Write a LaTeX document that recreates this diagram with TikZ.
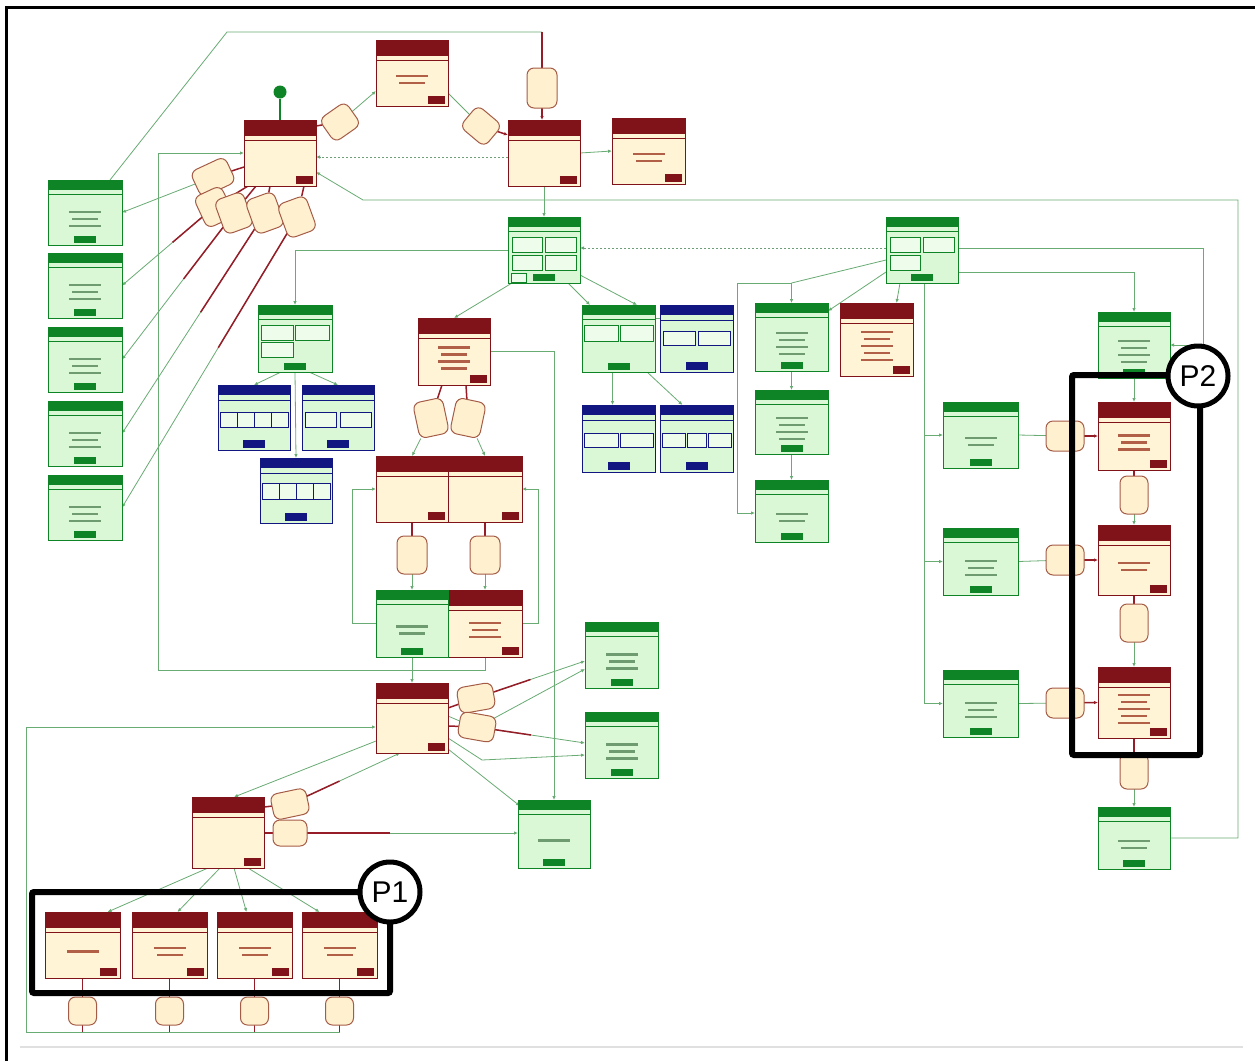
\documentclass[tikz,border=0pt]{standalone}
\usepackage{fontspec}
\newfontfamily\labfont{Liberation Sans}
\usetikzlibrary{calc,arrows.meta,backgrounds}
\definecolor{gdark}{RGB}{14,132,38}
\definecolor{glight}{RGB}{218,247,214}
\definecolor{rdark}{RGB}{128,18,26}
\definecolor{rlight}{RGB}{255,244,214}
\definecolor{bdark}{RGB}{18,22,128}
\definecolor{lgreen}{RGB}{104,172,116}
\definecolor{lred}{RGB}{150,28,40}
\definecolor{blobd}{RGB}{165,92,70}
\definecolor{blobf}{RGB}{255,240,208}
\definecolor{gtxt}{RGB}{110,155,112}
\definecolor{rtxt}{RGB}{178,95,72}
\definecolor{celf}{RGB}{238,252,236}
\newcommand{\cell}[4]{\draw[draw=#1, fill=celf, line width=0.6pt] ($(#2.north west)+(#3)$) rectangle ($(#2.north west)+(#4)$);}
\newcommand{\btxt}[3]{\foreach \k in {1,...,#2}{\fill[#3] ($(#1.center)+({-13-mod(\k,2)*3},{5+(\k-(#2+1)/2)*7})$) rectangle ++({26+mod(\k,2)*6},2.6);}}
\tikzset{
 >={Latex[length=4pt,width=3.5pt]},
 boxbase/.style={anchor=north west, inner sep=0pt, outer sep=0pt, line width=0.9pt, minimum width=72pt, minimum height=66pt},
 gbox/.style={boxbase, draw=gdark, fill=glight, path picture={
   \fill[gdark] (path picture bounding box.north west) rectangle ([yshift=-10pt]path picture bounding box.north east);
   \draw[gdark,line width=0.5pt] ([yshift=-14pt]path picture bounding box.north west) -- ([yshift=-14pt]path picture bounding box.north east);
   \fill[gdark] ([xshift=-11pt,yshift=2pt]path picture bounding box.south) rectangle ([xshift=11pt,yshift=9pt]path picture bounding box.south);
 }},
 rbox/.style={boxbase, draw=rdark, fill=rlight, path picture={
   \fill[rdark] (path picture bounding box.north west) rectangle ([yshift=-16pt]path picture bounding box.north east);
   \draw[rdark,line width=0.5pt] ([yshift=-20pt]path picture bounding box.north west) -- ([yshift=-20pt]path picture bounding box.north east);
   \fill[rdark] ([xshift=-20pt,yshift=2pt]path picture bounding box.south east) rectangle ([xshift=-3pt,yshift=10pt]path picture bounding box.south east);
 }},
 bbox/.style={boxbase, draw=bdark, fill=glight, path picture={
   \fill[bdark] (path picture bounding box.north west) rectangle ([yshift=-10pt]path picture bounding box.north east);
   \draw[bdark,line width=0.5pt] ([yshift=-15pt]path picture bounding box.north west) -- ([yshift=-15pt]path picture bounding box.north east);
   \fill[bdark] ([xshift=-11pt,yshift=2pt]path picture bounding box.south) rectangle ([xshift=11pt,yshift=10pt]path picture bounding box.south);
 }},
 blob/.style={draw=blobd, fill=blobf, line width=1pt, rounded corners=7pt, minimum width=28pt, minimum height=36pt, inner sep=0pt, outer sep=0pt},
 gl/.style={draw=lgreen, line width=0.8pt},
 rl/.style={draw=lred, line width=1.5pt},
 dl/.style={draw=lgreen!70!gray, line width=0.8pt, dash pattern=on 2pt off 2pt},
 plab/.style={circle, draw, line width=5pt, fill=white, minimum size=60pt, inner sep=0pt, font=\labfont\fontsize{30}{30}\selectfont}
}
\begin{document}
\begin{tikzpicture}[x=1pt,y=-1pt]
\useasboundingbox (0,0) rectangle (1255,1061);
\begin{pgfonlayer}{background}
\fill[white] (0,0) rectangle (1255,1061);
\end{pgfonlayer}
% ---------- red boxes
\node[rbox] (A) at (244,120) {};
\node[rbox] (B) at (376,40) {};
\node[rbox] (C) at (508,120) {};
\node[rbox, minimum width=73pt] (D) at (612,118) {};
\node[rbox, minimum height=67pt] (H) at (418,318) {};
\node[rbox] (I1) at (376,456) {};
\node[rbox, minimum width=74pt] (I2) at (448,456) {};
\node[rbox, minimum width=74pt, minimum height=67pt] (J2) at (448,590) {};
\node[rbox, minimum height=70pt] (K) at (376,683) {};
\node[rbox, minimum height=71pt] (N) at (192,797) {};
\node[rbox, minimum width=75pt] (P1a) at (45,912) {};
\node[rbox, minimum width=75pt] (P1b) at (132,912) {};
\node[rbox, minimum width=75pt] (P1c) at (217,912) {};
\node[rbox, minimum width=75pt] (P1d) at (302,912) {};
\node[rbox, minimum width=73pt, minimum height=73pt] (R) at (840,303) {};
\node[rbox, minimum height=68pt] (T1) at (1098,402) {};
\node[rbox, minimum height=70pt] (T2) at (1098,525) {};
\node[rbox, minimum height=71pt] (T3) at (1098,667) {};
% ---------- green boxes
\node[gbox, minimum width=74pt, minimum height=65pt] (LA) at (48,180) {};
\node[gbox, minimum width=74pt, minimum height=65pt] (LB) at (48,253) {};
\node[gbox, minimum width=74pt, minimum height=65pt] (LC) at (48,327) {};
\node[gbox, minimum width=74pt, minimum height=65pt] (LD) at (48,401) {};
\node[gbox, minimum width=74pt, minimum height=65pt] (LE) at (48,475) {};
\node[gbox] (E) at (508,217) {};
\node[gbox, minimum width=74pt, minimum height=67pt] (F) at (258,305) {};
\node[gbox, minimum height=67pt] (J1) at (376,590) {};
\node[gbox, minimum width=73pt] (GL1) at (585,622) {};
\node[gbox, minimum width=73pt] (GL2) at (585,712) {};
\node[gbox, minimum height=68pt] (M) at (518,800) {};
\node[gbox] (O) at (886,217) {};
\node[gbox, minimum width=73pt, minimum height=68pt] (Q1) at (755,303) {};
\node[gbox, minimum width=73pt, minimum height=64pt] (Q2) at (755,390) {};
\node[gbox, minimum width=73pt, minimum height=62pt] (Q3) at (755,480) {};
\node[gbox] (S) at (1098,312) {};
\node[gbox, minimum width=75pt] (V1) at (943,402) {};
\node[gbox, minimum width=75pt, minimum height=67pt] (V2) at (943,528) {};
\node[gbox, minimum width=75pt, minimum height=67pt] (V3) at (943,670) {};
\node[gbox, minimum height=62pt] (U) at (1098,807) {};
\node[gbox, minimum width=73pt, minimum height=67pt] (W) at (582,305) {};
% ---------- blue boxes
\node[bbox, minimum height=65pt] (G1) at (218,385) {};
\node[bbox, minimum height=65pt] (G2) at (302,385) {};
\node[bbox, minimum height=65pt] (G3) at (260,458) {};
\node[bbox, minimum width=73pt, minimum height=67pt] (X) at (660,305) {};
\node[bbox, minimum width=73pt, minimum height=67pt] (Y1) at (582,405) {};
\node[bbox, minimum width=73pt, minimum height=67pt] (Y2) at (660,405) {};
% ---------- cells
\cell{gdark}{E}{4,20}{34,35}\cell{gdark}{E}{37,20}{68,35}
\cell{gdark}{E}{4,38}{34,53}\cell{gdark}{E}{37,38}{68,53}
\cell{gdark}{E}{3,56}{18,65}
\cell{gdark}{F}{3,20}{35,35}\cell{gdark}{F}{37,20}{71,35}\cell{gdark}{F}{3,37}{35,52}
\cell{gdark}{O}{4,20}{34,35}\cell{gdark}{O}{37,20}{68,35}\cell{gdark}{O}{4,38}{34,53}
\cell{gdark}{W}{2,20}{36,36}\cell{gdark}{W}{38,20}{71,36}
\cell{bdark}{G1}{2,27}{19,42}\cell{bdark}{G1}{19,27}{36,42}\cell{bdark}{G1}{36,27}{53,42}\cell{bdark}{G1}{53,27}{70,42}
\cell{bdark}{G2}{3,27}{34,42}\cell{bdark}{G2}{38,27}{69,42}
\cell{bdark}{G3}{2,25}{19,41}\cell{bdark}{G3}{19,25}{36,41}\cell{bdark}{G3}{36,25}{53,41}\cell{bdark}{G3}{53,25}{70,41}
\cell{bdark}{X}{3,26}{35,40}\cell{bdark}{X}{38,26}{70,40}
\cell{bdark}{Y1}{2,28}{36,42}\cell{bdark}{Y1}{38,28}{71,42}
\cell{bdark}{Y2}{2,28}{25,42}\cell{bdark}{Y2}{27,28}{46,42}\cell{bdark}{Y2}{48,28}{71,42}
% ---------- text-like marks
\foreach \n/\c in {LA/3,LB/3,LC/3,LD/3,LE/3,J1/2,GL1/3,GL2/3,M/1,Q1/4,Q2/4,Q3/2,S/4,V1/2,V2/3,V3/3,U/2}{\btxt{\n}{\c}{gtxt}}
\foreach \n/\c in {B/2,D/2,H/4,J2/3,P1a/1,P1b/2,P1c/2,P1d/2,R/5,T1/3,T2/2,T3/5}{\btxt{\n}{\c}{rtxt}}
% ---------- blobs
\node[circle, fill=gdark, minimum size=13pt, inner sep=0pt] (dot) at (280,92) {};
\node[blob, minimum width=32pt, minimum height=28pt, rotate=35] (b1) at (340,122) {};
\node[blob, minimum width=32pt, minimum height=28pt, rotate=-40] (b2) at (481,126) {};
\node[blob, minimum width=30pt, minimum height=40pt] (b3) at (542,88) {};
\node[blob, minimum width=38pt, minimum height=28pt, rotate=25] (a1) at (213,177) {};
\node[blob, minimum width=30pt, minimum height=34pt, rotate=25] (a2) at (214,207) {};
\node[blob, minimum width=30pt, minimum height=36pt, rotate=20] (a3) at (234,213) {};
\node[blob, minimum width=30pt, minimum height=36pt, rotate=20] (a4) at (265,213) {};
\node[blob, minimum width=30pt, minimum height=36pt, rotate=20] (a5) at (297,217) {};
\node[blob, minimum width=30pt, minimum height=36pt, rotate=12] (h1) at (431,418) {};
\node[blob, minimum width=30pt, minimum height=36pt, rotate=-12] (h2) at (468,418) {};
\node[blob, minimum width=30pt, minimum height=38pt] (i1) at (412,555) {};
\node[blob, minimum width=30pt, minimum height=38pt] (i2) at (485,555) {};
\node[blob, minimum width=36pt, minimum height=26pt, rotate=10] (k1) at (476,698) {};
\node[blob, minimum width=36pt, minimum height=26pt, rotate=-10] (k2) at (477,727) {};
\node[blob, minimum width=36pt, minimum height=26pt, rotate=12] (n1) at (290,804) {};
\node[blob, minimum width=34pt, minimum height=26pt] (n2) at (290,833) {};
\node[blob, minimum width=28pt, minimum height=28pt] (p1) at (82.5,1011) {};
\node[blob, minimum width=28pt, minimum height=28pt] (p2) at (169.5,1011) {};
\node[blob, minimum width=28pt, minimum height=28pt] (p3) at (254.5,1011) {};
\node[blob, minimum width=28pt, minimum height=28pt] (p4) at (339.5,1011) {};
\node[blob, minimum width=28pt, minimum height=38pt] (t1) at (1134,495) {};
\node[blob, minimum width=28pt, minimum height=38pt] (t2) at (1134,623) {};
\node[blob, minimum width=28pt, minimum height=36pt] (t3) at (1134,771) {};
\node[blob, minimum width=38pt, minimum height=30pt] (v1) at (1065,436) {};
\node[blob, minimum width=38pt, minimum height=30pt] (v2) at (1065,560) {};
\node[blob, minimum width=38pt, minimum height=30pt] (v3) at (1065,703) {};
\coordinate (bl) at (0,1032);
\coordinate (qj) at (791.5,283);
\coordinate (vj) at (924,283);
% ---------- connectors
\begin{pgfonlayer}{background}
\draw[gdark, line width=1.6pt] (dot) -- (A);
\draw[rl] ([yshift=-6pt]A.north east) -- (b1);
\draw[gl,->] (b1) -- ([yshift=-18pt]B.west);
\draw[gl] ([yshift=-20pt]B.east) -- (b2);
\draw[rl,->] (b2) -- ([yshift=18pt]C.west);
\draw[gl] ([xshift=-12pt]LA.north east) -- (227,32) -- (542,32);
\draw[rl] (542,32) -- (b3);
\draw[rl,->] (b3) -- (b3 |- C.north);
\draw[dl,->] ([yshift=-4pt]C.west) -- ([yshift=-4pt]A.east);
\draw[gl,->] (J2.south) |- (158,670) |- (A.west);
\draw[gl,->] (U.east) -| (1238,200) -- (363,200) -- ([yshift=-19pt]A.east);
\draw[gl,->] (C.south) -- (E.north);
\draw[gl,->] (C.east) -- (D.west);
% left cluster
\draw[gl,->] (a1) -- (LA.east);
\draw[rl] (a1) -- ([yshift=-14pt]A.west);
\foreach \b/\l in {a2/LB,a3/LC,a4/LD,a5/LE}{
  \draw[gl,->] (\b) -- (\l.east);
  \draw[rl] (\b) -- ($(\b)!0.45!(\l.east)$);
}
\draw[rl] (a2) -- ([xshift=4pt]A.south west);
\draw[rl] (a3) -- ([xshift=12pt]A.south west);
\draw[rl] (a4) -- ([xshift=26pt]A.south west);
\draw[rl] (a5) -- ([xshift=-12pt]A.south east);
% E subtree
\draw[gl,->] (E.west) -| (F.north);
\draw[gl,->] ([xshift=-14pt]F.south) -- (G1.north);
\draw[gl,->] ([xshift=14pt]F.south) -- (G2.north);
\draw[gl,->] (F.south) -- (G3.north);
\draw[gl,->] ([xshift=4pt]E.south west) -- (H.north);
\draw[gl,->] ([xshift=-12pt]E.south east) -- ([xshift=8pt]W.north west);
\draw[gl,->] ([yshift=8pt]E.south east) -- ([xshift=-18pt]W.north east);
\draw[gl] ([yshift=-13pt]W.north east) -- ([yshift=-13pt]X.north west);
\draw[gl,->] ([xshift=-6pt]W.south) -- ([xshift=-6pt]Y1.north);
\draw[gl,->] ([xshift=-8pt]W.south east) -- ([xshift=-14pt]Y2.north);
% H subtree
\draw[rl] ([xshift=-12pt]H.south) -- (h1);
\draw[gl,->] (h1) -- (I1.north);
\draw[rl] ([xshift=12pt]H.south) -- (h2);
\draw[gl,->] (h2) -- (I2.north);
\draw[gl,->] (H.east) -| (M.north);
\draw[rl] (I1.south) -- (i1);
\draw[gl,->] (i1) -- (J1.north);
\draw[rl] (I2.south) -- (i2);
\draw[gl,->] (i2) -- (J2.north);
\draw[gl,->] (J1.west) -- ++(-24,0) |- (I1.west);
\draw[gl,->] (J2.east) -- ++(16,0) |- (I2.east);
\draw[gl,->] (J1.south) -- (K.north);
% K subtree
\draw[rl] ([yshift=10pt]K.east) -- (k1);
\draw[gl,->] (k1) -- ([yshift=-6pt]GL1.west);
\draw[rl] (k1) -- ($(k1)!0.5!([yshift=-6pt]GL1.west)$);
\draw[gl,->] ([yshift=2pt]K.east) -- ++(28,12) -- ([yshift=-14pt]GL1.west);
\draw[rl] ([yshift=-8pt]K.east) -- (k2);
\draw[gl,->] (k2) -- ([yshift=2pt]GL2.west);
\draw[rl] (k2) -- ($(k2)!0.5!([yshift=2pt]GL2.west)$);
\draw[gl,->] ([yshift=-20pt]K.east) -- ++(34,22) -- ([yshift=-10pt]GL2.west);
\draw[gl,->] ([yshift=4pt]K.south east) -- ([xshift=2pt,yshift=-6pt]M.north west);
\draw[gl,->] ([yshift=12pt]K.south west) -- ([xshift=6pt]N.north);
\draw[gl,->] (p4.south) |- (26,1032) |- ([yshift=-9pt]K.west);
\foreach \p/\q in {P1a/p1,P1b/p2,P1c/p3,P1d/p4}{
  \draw[rl, line width=1.1pt] (\p.south) -- (\q);
  \draw[rl, line width=1.1pt] (\q.south) -- (\q.south |- bl);
}
\draw[gl] (p1.south |- bl) -- (p4.south |- bl);
% N
\draw[gl,->] ([xshift=-20pt]N.south) -- ([xshift=25pt]P1a.north);
\draw[gl,->] ([xshift=-8pt]N.south) -- ([xshift=8pt]P1b.north);
\draw[gl,->] ([xshift=6pt]N.south) -- ([xshift=-8pt]P1c.north);
\draw[gl,->] ([xshift=20pt]N.south) -- ([xshift=-20pt]P1d.north);
\draw[rl] ([yshift=-10pt]N.north east) -- (n1);
\draw[gl,->] (n1) -- ([xshift=-12pt]K.south);
\draw[rl] (n1) -- ($(n1)!0.45!([xshift=-12pt]K.south)$);
\draw[rl] (N.east |- n2) -- (n2);
\draw[gl,->] (n2) -- (M.west |- n2);
\draw[rl] (n2) -- (390,833);
% O subtree
\draw[dl,->] ([yshift=2pt]O.west) -- ([yshift=2pt]E.east);
\draw[gl] ([yshift=-10pt]O.west) -- (qj);
\draw[gl,->] (qj) -- (Q1.north);
\draw[gl,->] (qj) -- (737,283) |- ([yshift=-2pt]Q3.west);
\draw[gl,->] ([yshift=-22pt]O.west) -- ([yshift=-8pt]Q1.north east);
\draw[gl,->] ([xshift=14pt]O.south west) -- ([xshift=20pt]R.north);
\draw[gl,->] (Q1.south) -- (Q2.north);
\draw[gl,->] (Q2.south) -- (Q3.north);
\draw[gl,->] (vj) |- (V1.west);
\draw[gl,->] (vj) |- (V2.west);
\draw[gl,->] (vj) |- (V3.west);
\draw[gl,->] ([yshift=2pt]O.east) -| (1203,345) -- (S.east);
\draw[gl,->] ([yshift=-22pt]O.east) -| (S.north);
\draw[gl,->] (S.south) -- (T1.north);
\draw[rl] (T1.south) -- (t1);
\draw[gl,->] (t1) -- (T2.north);
\draw[rl] (T2.south) -- (t2);
\draw[gl,->] (t2) -- (T3.north);
\draw[rl] (T3.south) -- (t3);
\draw[gl,->] (t3) -- (U.north);
\foreach \v/\t/\b in {V1/T1/v1,V2/T2/v2,V3/T3/v3}{
  \draw[gl] (\v.east) -- (\b);
  \draw[rl,->] (\b) -- (\t.west);
}
\end{pgfonlayer}
% ---------- highlight frames
\draw[line width=6pt, rounded corners=2pt] (32,892) rectangle (390,993);
\node[plab] (P1lab) at (390,892) {P1};
\draw[line width=6pt, rounded corners=2pt] (1072,375) rectangle (1200,755);
\node[plab] (P2lab) at (1198,376) {P2};
% ---------- outer frame
\draw[black!12, line width=2pt] (20,1047) -- (1243,1047);
\draw[line width=3pt] (6,1061) -- (6,7) -- (1255,7);
\end{tikzpicture}
\end{document}
